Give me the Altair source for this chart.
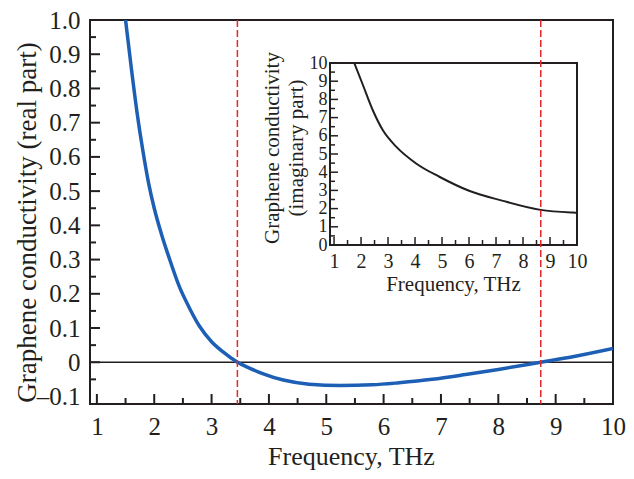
import altair as alt
import pandas as pd

FONT = "Liberation Serif"
TXT = "#231f20"

# ---- data ----
freq_re = [1.50, 1.60, 1.70, 1.80, 1.90, 2.00, 2.125, 2.25, 2.44, 2.60, 2.79, 3.00, 3.20,
           3.45, 3.66, 3.89, 4.25, 4.70, 5.25, 5.80, 6.27, 6.85, 7.43, 8.00, 8.74, 9.30, 10.0]
cond_re = [1.00, 0.86, 0.73, 0.62, 0.525, 0.45, 0.375, 0.31, 0.22, 0.163, 0.105, 0.060, 0.030,
           0.0, -0.017, -0.033, -0.052, -0.064, -0.068, -0.066, -0.060, -0.050, -0.036, -0.021, 0.0, 0.016, 0.040]

freq_im = [1.75, 2.08, 2.44, 2.81, 3.31, 4.04, 4.90, 6.00, 7.22, 8.65, 9.86, 10.0]
cond_im = [10.0, 8.75, 7.39, 6.30, 5.39, 4.48, 3.75, 2.98, 2.44, 1.93, 1.78, 1.77]

resonances = [3.45, 8.74]

main_x_ticks = [1, 2, 3, 4, 5, 6, 7, 8, 9, 10]
main_x_minor = [1.5, 2.5, 3.5, 4.5, 5.5, 6.5, 7.5, 8.5, 9.5]
main_y_ticks = [-0.1, 0.0, 0.1, 0.2, 0.3, 0.4, 0.5, 0.6, 0.7, 0.8, 0.9, 1.0]
main_y_tick_marks = [0.0, 0.1, 0.2, 0.3, 0.4, 0.5, 0.6, 0.7, 0.8, 0.9, 1.0]
main_y_minor = [-0.05, 0.05, 0.15, 0.25, 0.35, 0.45, 0.55, 0.65, 0.75, 0.85, 0.95]
inset_x_ticks = [1, 2, 3, 4, 5, 6, 7, 8, 9, 10]
inset_x_minor = [1.5, 2.5, 3.5, 4.5, 5.5, 6.5, 7.5, 8.5, 9.5]
inset_y_ticks = [0, 1, 2, 3, 4, 5, 6, 7, 8, 9, 10]
inset_y_minor = [0.5, 1.5, 2.5, 3.5, 4.5, 5.5, 6.5, 7.5, 8.5, 9.5]
inset_y_title = ["Graphene conductivity", "(imaginary part)"]

# ---- layout ----
W, H = 523, 384
X_DOM = [0.88, 10]
Y_DOM = [-0.122, 1.0]
IX_DOM = [0.85, 10]
IX_RANGE = [240, 487]
IY_DOM = [0, 10]
IY_RANGE = [225, 43]

xs = alt.Scale(domain=X_DOM, nice=False, zero=False)
ys = alt.Scale(domain=Y_DOM, nice=False, zero=False)
ixs = alt.Scale(domain=IX_DOM, range=IX_RANGE, nice=False, zero=False)
iys = alt.Scale(domain=IY_DOM, range=IY_RANGE, nice=False, zero=False)

common = dict(tickSize=0, domain=False, grid=False, labelFont=FONT, labelColor=TXT,
              titleFont=FONT, titleColor=TXT, titleFontWeight="normal", labelFlush=False,
              labelOverlap=False)

x_axis = alt.Axis(values=main_x_ticks, title="Frequency, THz", labelFontSize=25, labelPadding=10,
                  titleFontSize=26, titleX=261, titleY=52, titleBaseline="middle", **common)
y_axis = alt.Axis(values=main_y_ticks, title="Graphene conductivity (real part)", labelFontSize=25,
                  labelPadding=10,
                  labelExpr="datum.value == 0 ? '0' : (datum.value < 0 ? '\u2013' + format(-datum.value, '.1f') : format(datum.value, '.1f'))",
                  titleFontSize=27, titleAngle=270, titleX=-63, titleY=202, titleBaseline="middle",
                  titleAlign="center", **common)
ix_axis = alt.Axis(values=inset_x_ticks, orient="bottom", offset=IY_RANGE[0] - H, title="Frequency, THz",
                   labelFontSize=20, labelPadding=6, titleFontSize=21, titleX=363, titleY=39,
                   titleBaseline="middle", **common)
iy_axis = alt.Axis(values=inset_y_ticks, orient="left", offset=-IX_RANGE[0], title=None,
                   labelFontSize=18, labelPadding=3, **common)


def mx(f):
    return alt.X(f"{f}:Q", scale=xs, axis=x_axis)


def my(f):
    return alt.Y(f"{f}:Q", scale=ys, axis=y_axis)


def ix(f):
    return alt.X(f"{f}:Q", scale=ixs, axis=ix_axis)


def iy(f):
    return alt.Y(f"{f}:Q", scale=iys, axis=iy_axis)


df_re = pd.DataFrame({"f": freq_re, "s": cond_re})
df_im = pd.DataFrame({"f": freq_im, "s": cond_im})

zero_line = alt.Chart(pd.DataFrame({"v": [0.0]})).mark_rule(color=TXT, strokeWidth=1.5).encode(y=my("v"))
curve = alt.Chart(df_re).mark_line(color="#1c5fb5", strokeWidth=3.5, interpolate="monotone", clip=True).encode(
    x=mx("f"), y=my("s"))
xt_major = alt.Chart(pd.DataFrame({"v": main_x_ticks})).mark_rule(color=TXT, strokeWidth=2).encode(
    x=mx("v"), y=alt.value(H), y2=alt.value(H - 10))
xt_minor = alt.Chart(pd.DataFrame({"v": main_x_minor})).mark_rule(color=TXT, strokeWidth=2).encode(
    x=mx("v"), y=alt.value(H), y2=alt.value(H - 6))
yt_major = alt.Chart(pd.DataFrame({"v": main_y_tick_marks})).mark_rule(color=TXT, strokeWidth=2).encode(
    y=my("v"), x=alt.value(0), x2=alt.value(10))
yt_minor = alt.Chart(pd.DataFrame({"v": main_y_minor})).mark_rule(color=TXT, strokeWidth=2).encode(
    y=my("v"), x=alt.value(0), x2=alt.value(6))

main = alt.layer(zero_line, curve, xt_major, xt_minor, yt_major, yt_minor)

icurve = alt.Chart(df_im).mark_line(color=TXT, strokeWidth=2, interpolate="monotone", clip=True).encode(
    x=ix("f"), y=iy("s"))
iframe = alt.Chart(pd.DataFrame({"x0": [IX_DOM[0]], "x1": [IX_DOM[1]], "y0": [IY_DOM[0]], "y1": [IY_DOM[1]]})).mark_rect(
    fillOpacity=0, stroke=TXT, strokeWidth=2).encode(x=ix("x0"), x2="x1", y=iy("y0"), y2="y1")
ixt_major = alt.Chart(pd.DataFrame({"v": inset_x_ticks})).mark_rule(color=TXT, strokeWidth=1.5).encode(
    x=ix("v"), y=alt.value(IY_RANGE[0]), y2=alt.value(IY_RANGE[0] - 8))
ixt_minor = alt.Chart(pd.DataFrame({"v": inset_x_minor})).mark_rule(color=TXT, strokeWidth=1.5).encode(
    x=ix("v"), y=alt.value(IY_RANGE[0]), y2=alt.value(IY_RANGE[0] - 5))
iyt_major = alt.Chart(pd.DataFrame({"v": inset_y_ticks})).mark_rule(color=TXT, strokeWidth=1.5).encode(
    y=iy("v"), x=alt.value(IX_RANGE[0]), x2=alt.value(IX_RANGE[0] + 8))
iyt_minor = alt.Chart(pd.DataFrame({"v": inset_y_minor})).mark_rule(color=TXT, strokeWidth=1.5).encode(
    y=iy("v"), x=alt.value(IX_RANGE[0]), x2=alt.value(IX_RANGE[0] + 5))

ititle1 = alt.Chart(pd.DataFrame({"t": [inset_y_title[0]]})).mark_text(
    font=FONT, fontSize=21, color=TXT, angle=270, align="center", baseline="middle").encode(
    text="t:N", x=alt.value(IX_RANGE[0] - 57), y=alt.value(128))
ititle2 = alt.Chart(pd.DataFrame({"t": [inset_y_title[1]]})).mark_text(
    font=FONT, fontSize=21, color=TXT, angle=270, align="center", baseline="middle").encode(
    text="t:N", x=alt.value(IX_RANGE[0] - 33), y=alt.value(128))

inset = alt.layer(icurve, iframe, ixt_major, ixt_minor, iyt_major, iyt_minor)

dashed = alt.Chart(pd.DataFrame({"f": resonances})).mark_rule(
    color="#e8262a", strokeDash=[7, 3], strokeWidth=1.5).encode(
    x=alt.X("f:Q", scale=alt.Scale(domain=X_DOM, nice=False, zero=False), axis=None))

chart = alt.layer(main, inset, dashed, ititle1, ititle2).resolve_scale(x="independent", y="independent").properties(
    width=W, height=H,
    autosize=alt.AutoSizeParams(type="none"),
    padding={"left": 82, "top": 12, "right": 13, "bottom": 67},
).configure_view(stroke=TXT, strokeWidth=2)

chart.save("out.html", embed_options={"renderer": "svg", "actions": False})
